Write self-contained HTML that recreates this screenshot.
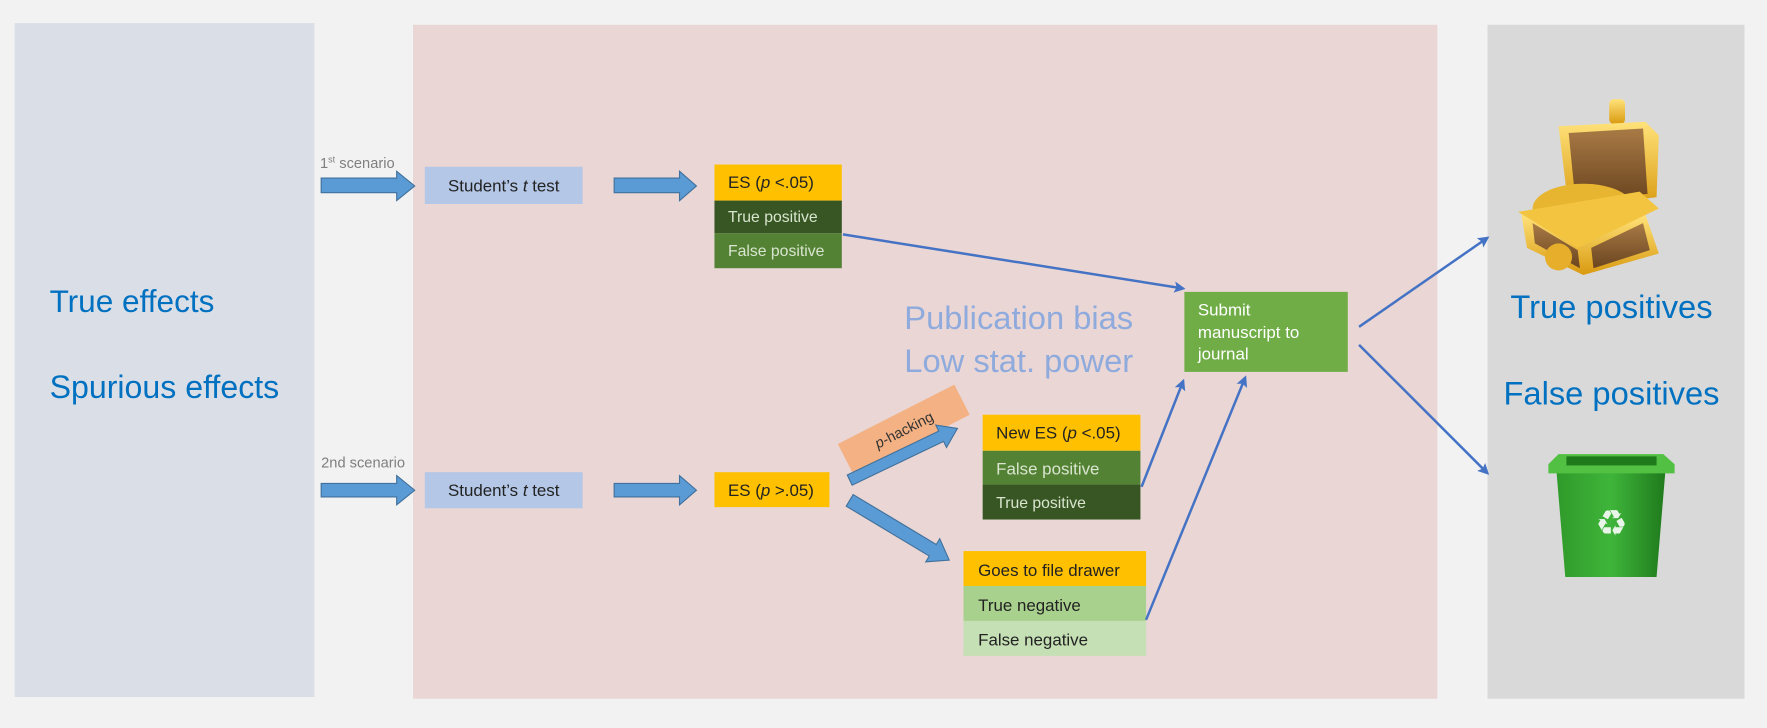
<!DOCTYPE html>
<html><head><meta charset="utf-8"><style>
html,body{margin:0;padding:0;background:#f2f2f2;}
svg{display:block;}
text{font-family:"Liberation Sans",sans-serif;}
</style></head><body>
<svg width="1767" height="728" viewBox="0 0 1568 646" preserveAspectRatio="none" xmlns="http://www.w3.org/2000/svg">
<defs>
<marker id="ah" markerWidth="10" markerHeight="10" refX="8" refY="5" orient="auto" markerUnits="userSpaceOnUse">
<path d="M0,0 L10,5 L0,10 L2,5 z" fill="#4472c4"/>
</marker>
<linearGradient id="gold" x1="0" y1="0" x2="0" y2="1">
<stop offset="0" stop-color="#ffe27a"/><stop offset="1" stop-color="#d99a10"/>
</linearGradient>
<linearGradient id="wood" x1="0" y1="0" x2="0" y2="1">
<stop offset="0" stop-color="#a87a45"/><stop offset="1" stop-color="#6b4520"/>
</linearGradient>
<linearGradient id="bin" x1="0" y1="0" x2="1" y2="0">
<stop offset="0" stop-color="#2f9a2a"/><stop offset="0.5" stop-color="#3fb53a"/><stop offset="1" stop-color="#1f7a1c"/>
</linearGradient>
</defs>
<rect width="1568" height="646" fill="#f2f2f2"/>
<rect x="13" y="20.5" width="266" height="598" fill="#dadfe7"/>
<rect x="366.5" y="22" width="909" height="598" fill="#e9d6d5"/>
<rect x="1320" y="22" width="228" height="598" fill="#d9d9d9"/>

<text x="44" y="277" font-size="28" fill="#0070c0">True effects</text>
<text x="44" y="353" font-size="28.5" fill="#0070c0">Spurious effects</text>

<g fill="#5b9bd5" stroke="#41719c" stroke-width="1">
<path d="M285,158 L352,158 L352,152 L368,165 L352,178 L352,171 L285,171 z"/>
<path d="M545,158 L603,158 L603,152 L618,165 L603,178 L603,171 L545,171 z"/>
<path d="M285,429 L352,429 L352,422 L368,435 L352,448 L352,441 L285,441 z"/>
<path d="M545,429 L603,429 L603,422 L618,435 L603,448 L603,441 L545,441 z"/>
</g>
<text x="284" y="149" font-size="13" fill="#7f7f7f">1<tspan font-size="8" dy="-5">st</tspan><tspan dy="5"> scenario</tspan></text>
<text x="285" y="415" font-size="13" fill="#7f7f7f">2nd scenario</text>

<rect x="377" y="148" width="140" height="33" fill="#b4c7e7"/>
<text x="447" y="170" font-size="15" fill="#222" text-anchor="middle">Student’s <tspan font-style="italic">t</tspan> test</text>
<rect x="377" y="419" width="140" height="32" fill="#b4c7e7"/>
<text x="447" y="440" font-size="15" fill="#222" text-anchor="middle">Student’s <tspan font-style="italic">t</tspan> test</text>

<rect x="634" y="146" width="113" height="32" fill="#ffc000"/>
<rect x="634" y="178" width="113" height="29" fill="#375623"/>
<rect x="634" y="207" width="113" height="31" fill="#548235"/>
<text x="646" y="167" font-size="15" fill="#222">ES (<tspan font-style="italic">p</tspan> &lt;.05)</text>
<text x="646" y="197" font-size="14" fill="#d9e5cf">True positive</text>
<text x="646" y="227" font-size="14" fill="#d9e5cf">False positive</text>

<rect x="634" y="419" width="102" height="31" fill="#ffc000"/>
<text x="646" y="440" font-size="15" fill="#222">ES (<tspan font-style="italic">p</tspan> &gt;.05)</text>

<text x="904" y="292" font-size="29" fill="#8faadc" text-anchor="middle">Publication bias</text>
<text x="904" y="330" font-size="29" fill="#8faadc" text-anchor="middle">Low stat. power</text>

<rect x="1051" y="259" width="145" height="71" fill="#70ad47"/>
<text x="1063" y="280" font-size="15" fill="#fff">Submit</text>
<text x="1063" y="300" font-size="15" fill="#fff">manuscript  to</text>
<text x="1063" y="319" font-size="15" fill="#fff">journal</text>

<g transform="translate(802,381) rotate(-27)">
<rect x="-58" y="-15" width="116" height="30" fill="#f4b183"/>
<text x="0" y="5" font-size="13" fill="#333" text-anchor="middle"><tspan font-style="italic">p</tspan>-hacking</text>
</g>
<g fill="#5b9bd5" stroke="#41719c" stroke-width="1">
<path transform="translate(754,426) rotate(-25.6)" d="M0,-5 L90,-5 L90,-11 L106,0 L90,11 L90,5 L0,5 z"/>
<path transform="translate(754,444) rotate(31)" d="M0,-6 L86,-6 L86,-12 L103,0 L86,12 L86,6 L0,6 z"/>
</g>

<rect x="872" y="368" width="140" height="32" fill="#ffc000"/>
<rect x="872" y="400" width="140" height="30" fill="#548235"/>
<rect x="872" y="430" width="140" height="31" fill="#375623"/>
<text x="884" y="389" font-size="15" fill="#222">New ES (<tspan font-style="italic">p</tspan> &lt;.05)</text>
<text x="884" y="421" font-size="15" fill="#d9e5cf">False positive</text>
<text x="884" y="451" font-size="14" fill="#d9e5cf">True positive</text>

<rect x="855" y="489" width="162" height="31" fill="#ffc000"/>
<rect x="855" y="520" width="162" height="31" fill="#a9d18e"/>
<rect x="855" y="551" width="162" height="31" fill="#c5e0b4"/>
<text x="868" y="511" font-size="15" fill="#222">Goes to file drawer</text>
<text x="868" y="542" font-size="15" fill="#222">True negative</text>
<text x="868" y="573" font-size="15" fill="#222">False negative</text>

<g stroke="#4472c4" stroke-width="2.2" fill="none" marker-end="url(#ah)">
<line x1="748" y1="208" x2="1050" y2="256"/>
<line x1="1013" y1="432" x2="1050" y2="338"/>
<line x1="1017" y1="550" x2="1105" y2="335"/>
<line x1="1206" y1="290" x2="1320" y2="211"/>
<line x1="1206" y1="306" x2="1320" y2="420"/>
</g>

<text x="1430" y="282" font-size="29" fill="#0070c0" text-anchor="middle">True positives</text>
<text x="1430" y="359" font-size="29" fill="#0070c0" text-anchor="middle">False positives</text>

<g>
<rect x="1428" y="88" width="14" height="22" rx="4" fill="url(#gold)"/>
<path d="M1383,112 L1460,108 L1472,120 L1470,175 L1392,185 z" fill="url(#gold)"/>
<path d="M1392,118 L1458,114 L1462,172 L1398,178 z" fill="url(#wood)"/>
<ellipse cx="1405" cy="185" rx="45" ry="22" fill="#e8b530"/>
<path d="M1350,190 L1400,218 L1460,190 L1472,225 L1405,244 L1355,220 z" fill="url(#gold)"/>
<path d="M1360,198 L1400,222 L1402,238 L1362,216 z" fill="url(#wood)"/>
<path d="M1412,220 L1458,198 L1464,222 L1414,238 z" fill="url(#wood)"/>
<path d="M1347,188 L1455,170 L1472,185 L1400,220 z" fill="#f2c440"/>
<circle cx="1383" cy="228" r="12" fill="#e6ae2a"/>
</g>

<g>
<path d="M1381,416 L1478,416 L1470,512 L1389,512 z" fill="url(#bin)"/>
<path d="M1383,403 L1476,403 L1486,412 L1486,420 L1374,420 L1374,412 z" fill="#52c043"/>
<rect x="1390" y="405" width="80" height="8" fill="#1e7a1a"/>
<text x="1430" y="475" font-size="32" fill="#e8f5e8" text-anchor="middle" font-family="DejaVu Sans">♻</text>
</g>
</svg>
</body></html>
